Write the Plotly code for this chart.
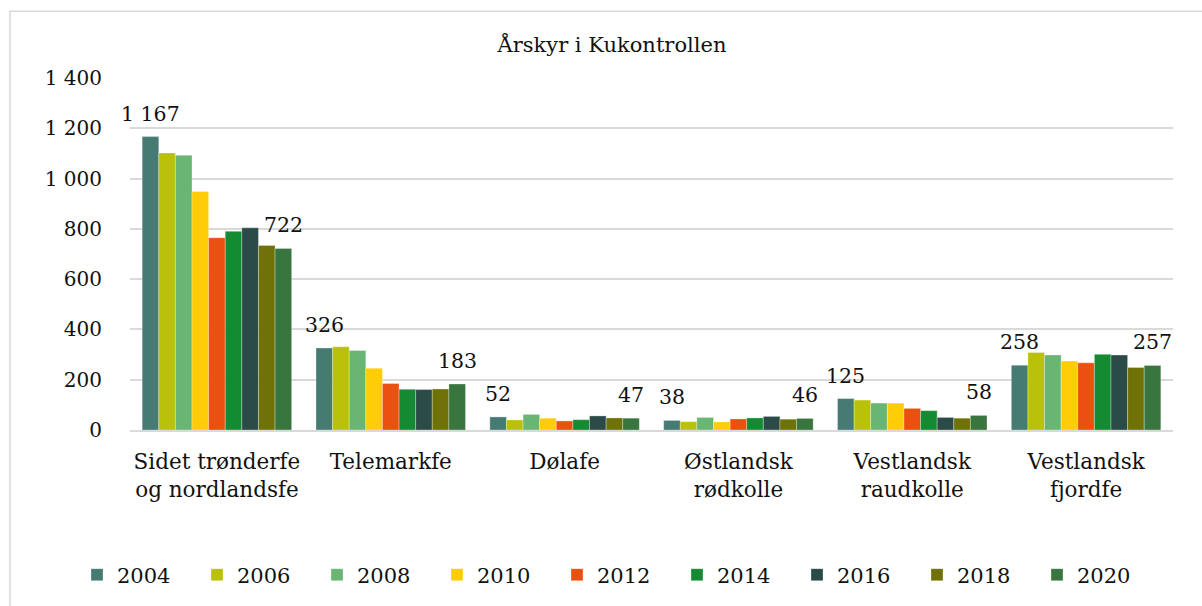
import plotly.graph_objects as go

categories = ["Sidet trønderfe<br>og nordlandsfe", "Telemarkfe", "Dølafe",
              "Østlandsk<br>rødkolle", "Vestlandsk<br>raudkolle", "Vestlandsk<br>fjordfe"]
years = ["2004", "2006", "2008", "2010", "2012", "2014", "2016", "2018", "2020"]
values = {
    "2004": [1167, 326, 52, 38, 125, 258],
    "2006": [1102, 331, 40, 33, 119, 308],
    "2008": [1093, 316, 62, 50, 107, 298],
    "2010": [949, 246, 47, 32, 107, 274],
    "2012": [765, 185, 36, 44, 86, 267],
    "2014": [790, 162, 41, 48, 77, 301],
    "2016": [804, 161, 56, 54, 50, 298],
    "2018": [734, 163, 48, 43, 47, 249],
    "2020": [722, 183, 47, 46, 58, 257],
}
colors = ["#467B73", "#B9C10A", "#69B573", "#FFCC08", "#EA5110",
          "#148B32", "#2B4B48", "#6E7207", "#39753F"]

FONT = "DejaVu Serif"
bargap = 0.14
W, H = 1202, 606
L, R, T, B = 130, 29, 78, 175
PW, PH = W - L - R, H - T - B

fig = go.Figure()
for y, c in zip(years, colors):
    fig.add_trace(go.Bar(name=y, x=categories, y=values[y], marker_color=c,
                         marker_line_width=0.6, marker_line_color="rgba(255,255,255,0.5)"))

# Data labels on first and last series
n = len(years)
bw = (1 - bargap) / n
for idx, y in [(0, years[0]), (n - 1, years[-1])]:
    off = -(1 - bargap) / 2 + (idx + 0.5) * bw
    for ci, v in enumerate(values[y]):
        txt = f"{v:,}".replace(",", " ")
        fig.add_annotation(x=ci + off, y=v, xref="x", yref="y", text=txt,
                           showarrow=False, yanchor="bottom", yshift=9,
                           font=dict(family=FONT, size=20.5, color="#111"))

# Outer border
fig.add_shape(type="rect", xref="paper", yref="paper",
              x0=(10 - L) / PW, x1=1.2, y0=-1, y1=(H - B - 11) / PH,
              line=dict(color="#D9D9D9", width=1.5), fillcolor="rgba(0,0,0,0)")

fig.update_layout(
    width=W, height=H,
    margin=dict(l=L, r=R, t=T, b=B),
    paper_bgcolor="white", plot_bgcolor="white",
    barmode="group", bargap=bargap, bargroupgap=0,
    separators=", ",
    title=dict(text="Årskyr i Kukontrollen", x=612 / W, xanchor="center",
               y=1 - 45 / H, yanchor="middle",
               font=dict(family=FONT, size=21, color="#111")),
    font=dict(family=FONT, size=18, color="#111"),
    showlegend=True,
    legend=dict(orientation="h", xref="paper", yref="paper",
                x=(77 - L) / PW, xanchor="left",
                y=(H - B - 575) / PH, yanchor="middle",
                entrywidth=75, entrywidthmode="pixels",
                itemwidth=30,
                font=dict(family=FONT, size=21, color="#111"),
                traceorder="normal"),
)
fig.update_yaxes(range=[0, 1400], dtick=200, tickformat=",d",
                 showgrid=True, gridcolor="#D9D9D9", gridwidth=1.5,
                 zeroline=False, showline=False, ticks="",
                 ticklabelstandoff=27, automargin=False,
                 tickfont=dict(family=FONT, size=20, color="#111"))
fig.update_xaxes(range=[-0.5, len(categories) - 0.5],
                 showline=True, linecolor="#D9D9D9", linewidth=1.5,
                 ticks="", ticklabelstandoff=11, automargin=False,
                 tickfont=dict(family=FONT, size=21.5, color="#111"))

fig.write_html("out.html", config={"displayModeBar": False},
               post_script="document.body.style.margin='0';")
